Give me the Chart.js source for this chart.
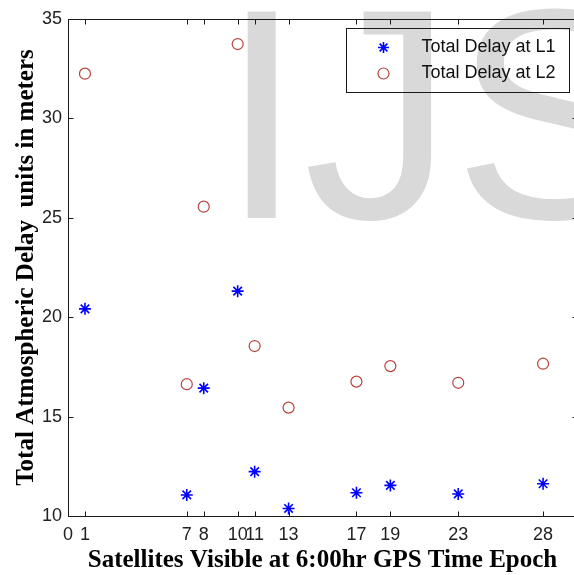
<!DOCTYPE html>
<html><head><meta charset="utf-8">
<script src="https://cdn.jsdelivr.net/npm/chart.js@4.4.1/dist/chart.umd.min.js"></script>
<style>
html,body{margin:0;padding:0;overflow:hidden;background:#fff;}
#wrap{width:600px;height:575px;}
</style></head><body>
<div id="wrap"><canvas id="c" width="600" height="575"></canvas></div>
<script>
const satellites = [1, 7, 8, 10, 11, 13, 17, 19, 23, 28];
const delayL1 = [20.42, 11.06, 16.43, 21.31, 12.23, 10.38, 11.17, 11.54, 11.11, 11.62];
const delayL2 = [32.25, 16.63, 25.56, 33.74, 18.55, 15.45, 16.76, 17.54, 16.70, 17.66];
const xTicks = [0, 1, 7, 8, 10, 11, 13, 17, 19, 23, 28];
const yTicks = [10, 15, 20, 25, 30, 35];
const seriesLabels = ['Total Delay at L1', 'Total Delay at L2'];
const xTitle = 'Satellites Visible at 6:00hr GPS Time Epoch';
const yTitle = 'Total Atmospheric Delay  units in meters';
const watermark = 'IJS';

const L1_COLOR = '#0000ff';
const L2_COLOR = '#b8433d';

function drawStar(ctx, x, y, r, color, lw) {
  ctx.save();
  ctx.strokeStyle = color; ctx.lineWidth = lw;
  ctx.beginPath();
  ctx.moveTo(x - r, y); ctx.lineTo(x + r, y);
  ctx.moveTo(x, y - r); ctx.lineTo(x, y + r);
  const d = r * Math.SQRT1_2;
  ctx.moveTo(x - d, y - d); ctx.lineTo(x + d, y + d);
  ctx.moveTo(x - d, y + d); ctx.lineTo(x + d, y - d);
  ctx.stroke();
  ctx.restore();
}
function drawCircle(ctx, x, y, r, color, lw) {
  ctx.save();
  ctx.strokeStyle = color; ctx.lineWidth = lw;
  ctx.beginPath(); ctx.arc(x, y, r, 0, Math.PI * 2); ctx.stroke();
  ctx.restore();
}

const watermarkPlugin = {
  id: 'watermark',
  beforeDraw(chart) {
    const ctx = chart.ctx;
    ctx.save();
    ctx.font = '300px "Liberation Sans", Arial, sans-serif';
    ctx.fillStyle = '#d9d9d9';
    ctx.textBaseline = 'alphabetic';
    ctx.textAlign = 'left';
    ctx.fillText(watermark, 220, 218);
    ctx.restore();
  }
};

const framePlugin = {
  id: 'frame',
  afterDraw(chart) {
    const ctx = chart.ctx;
    const a = chart.chartArea;
    const xs = chart.scales.x, ys = chart.scales.y;
    const L = Math.round(a.left) + 0.5, R = Math.round(a.right) + 0.5;
    const T = Math.round(a.top) + 0.5, B = Math.round(a.bottom) + 0.5;
    ctx.save();
    ctx.strokeStyle = '#1a1a1a';
    ctx.lineWidth = 1;
    ctx.strokeRect(L, T, R - L, B - T);
    ctx.beginPath();
    xTicks.forEach(v => {
      const p = Math.round(xs.getPixelForValue(v)) + 0.5;
      ctx.moveTo(p, B); ctx.lineTo(p, B - 5);
      ctx.moveTo(p, T); ctx.lineTo(p, T + 5);
    });
    yTicks.forEach(v => {
      const p = Math.round(ys.getPixelForValue(v)) + 0.5;
      ctx.moveTo(L, p); ctx.lineTo(L + 5, p);
      ctx.moveTo(R, p); ctx.lineTo(R - 5, p);
    });
    ctx.stroke();

    // legend
    const lx = Math.round(a.right - 231) + 0.5, ly = Math.round(a.top + 9) + 0.5;
    const lw = 223, lh = 64;
    ctx.strokeStyle = '#1a1a1a';
    ctx.strokeRect(lx, ly, lw, lh);
    const mx = lx + 37, tx = lx + 75;
    const rows = [ly + 19, ly + 45];
    drawStar(ctx, mx, rows[0], 5.5, L1_COLOR, 1.6);
    drawCircle(ctx, mx, rows[1], 5.5, L2_COLOR, 1.2);
    ctx.fillStyle = '#111';
    ctx.font = '18px "Liberation Sans", Arial, sans-serif';
    ctx.textBaseline = 'middle';
    ctx.textAlign = 'left';
    ctx.fillText(seriesLabels[0], tx, rows[0]);
    ctx.fillText(seriesLabels[1], tx, rows[1]);
    ctx.restore();
  }
};

const tickFont = { family: '"Liberation Sans", Arial, sans-serif', size: 18 };
const titleFont = { family: '"Liberation Serif", "Times New Roman", serif', size: 25, weight: 'bold' };

new Chart(document.getElementById('c'), {
  type: 'scatter',
  data: {
    datasets: [
      {
        label: seriesLabels[0],
        data: satellites.map((s, i) => ({ x: s, y: delayL1[i] })),
        pointStyle: 'star',
        pointRadius: 6,
        borderColor: L1_COLOR,
        backgroundColor: L1_COLOR,
        borderWidth: 1.6,
        showLine: false
      },
      {
        label: seriesLabels[1],
        data: satellites.map((s, i) => ({ x: s, y: delayL2[i] })),
        pointStyle: 'circle',
        pointRadius: 5.5,
        borderColor: L2_COLOR,
        backgroundColor: 'rgba(0,0,0,0)',
        borderWidth: 1.2,
        showLine: false
      }
    ]
  },
  options: {
    responsive: false,
    animation: false,
    devicePixelRatio: 1,
    layout: { padding: { left: 0, top: 19, right: 23, bottom: 0 } },
    plugins: { legend: { display: false }, tooltip: { enabled: false } },
    scales: {
      x: {
        type: 'linear', min: 0, max: 30,
        afterBuildTicks: s => { s.ticks = xTicks.map(v => ({ value: v })); },
        afterFit: s => { s.height = 59; },
        ticks: { autoSkip: false, maxRotation: 0, minRotation: 0, padding: 8, font: tickFont, color: '#222' },
        grid: { display: false, drawTicks: false },
        border: { display: false },
        title: { display: true, text: xTitle, font: titleFont, color: '#000', padding: { top: 0, bottom: -1 } }
      },
      y: {
        type: 'linear', min: 10, max: 35,
        afterBuildTicks: s => { s.ticks = yTicks.map(v => ({ value: v })); },
        afterFit: s => { s.width = 68; },
        ticks: { padding: 6, font: tickFont, color: '#222' },
        grid: { display: false, drawTicks: false },
        border: { display: false },
        title: { display: true, text: yTitle, font: titleFont, color: '#000', padding: { top: 12, bottom: 0 } }
      }
    }
  },
  plugins: [watermarkPlugin, framePlugin]
});
</script>
</body></html>
